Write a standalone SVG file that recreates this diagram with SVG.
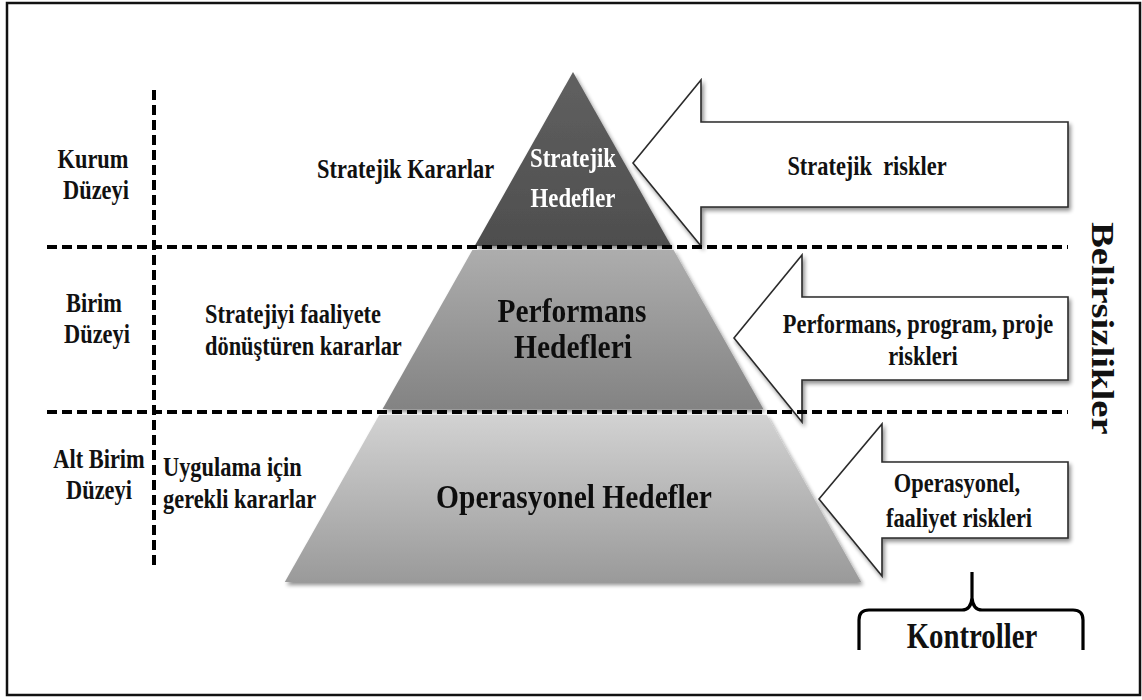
<svg xmlns="http://www.w3.org/2000/svg" width="1142" height="700" viewBox="0 0 1142 700">
  <defs>
    <style>
      text { font-family: "Liberation Serif", "Times New Roman", serif; font-weight: bold; fill: #111; }
      .sm { font-size: 22.4px; }
      .big { font-size: 29.5px; }
      .mid { text-anchor: middle; }
      .white { fill: #fff; }
      .arrow { fill: #fff; stroke: #2a2a2a; stroke-width: 1.6; stroke-linejoin: miter; }
      .dash { stroke: #000; stroke-width: 4; stroke-dasharray: 10 5; fill: none; }
      .brace { stroke: #000; stroke-width: 3.2; fill: none; stroke-linejoin: round; }
    </style>
    <linearGradient id="gTop" x1="0" y1="0" x2="0" y2="1">
      <stop offset="0" stop-color="#606060"/>
      <stop offset="1" stop-color="#4e4e4e"/>
    </linearGradient>
    <linearGradient id="gMid" x1="0" y1="0" x2="0" y2="1">
      <stop offset="0" stop-color="#adadad"/>
      <stop offset="1" stop-color="#838383"/>
    </linearGradient>
    <linearGradient id="gLow" x1="0" y1="0" x2="0" y2="1">
      <stop offset="0" stop-color="#d2d2d2"/>
      <stop offset="1" stop-color="#9a9a9a"/>
    </linearGradient>
    <filter id="shadow" x="-10%" y="-10%" width="125%" height="130%">
      <feGaussianBlur in="SourceAlpha" stdDeviation="2.2"/>
      <feOffset dx="1.5" dy="3" result="o"/>
      <feComponentTransfer><feFuncA type="linear" slope="0.45"/></feComponentTransfer>
      <feMerge><feMergeNode/><feMergeNode in="SourceGraphic"/></feMerge>
    </filter>
  </defs>

  <!-- frame -->
  <rect x="7" y="3" width="1133" height="692" fill="#fff" stroke="#111" stroke-width="2.5"/>

  <!-- pyramid tiers -->
  <g id="tier-strategic" filter="url(#shadow)">
    <polygon points="573,72 671.3,246 474.7,246" fill="url(#gTop)"/>
    <text class="sm mid white" style="font-size:22.8px" transform="translate(573,167) scale(1,1.2)">Stratejik</text>
    <text class="sm mid white" style="font-size:22.8px" transform="translate(573,207) scale(1,1.2)">Hedefler</text>
  </g>
  <g id="tier-performance" filter="url(#shadow)">
    <polygon points="472.4,250 673.6,250 763.4,409 382.6,409" fill="url(#gMid)"/>
    <text class="big mid" transform="translate(572,322) scale(1,1.15)">Performans</text>
    <text class="big mid" transform="translate(573,358) scale(1,1.15)">Hedefleri</text>
  </g>
  <g id="tier-operational" filter="url(#shadow)">
    <polygon points="379.2,415 766.8,415 861.2,582 284.8,582" fill="url(#gLow)"/>
    <text class="big mid" transform="translate(574,508) scale(1,1.15)">Operasyonel Hedefler</text>
  </g>

  <!-- risk arrows -->
  <g id="risk-strategic">
    <polygon class="arrow" filter="url(#shadow)" points="633,163 701,80 701,122 1068,122 1068,207 701,207 701,246"/>
    <text class="sm mid" style="white-space:pre" transform="translate(867,175) scale(1,1.2)">Stratejik  riskler</text>
  </g>
  <g id="risk-performance">
    <polygon class="arrow" filter="url(#shadow)" points="734,338 802,255 802,297 1068,297 1068,380 802,380 802,422"/>
    <text class="sm mid" transform="translate(918,333) scale(1,1.2)">Performans, program, proje</text>
    <text class="sm mid" transform="translate(923,365) scale(1,1.2)">riskleri</text>
  </g>
  <g id="risk-operational">
    <polygon class="arrow" filter="url(#shadow)" points="819,499 882,424 882,462 1068,462 1068,538 882,538 882,576"/>
    <text class="sm mid" transform="translate(957,492) scale(1,1.2)">Operasyonel,</text>
    <text class="sm mid" transform="translate(959,527) scale(1,1.2)">faaliyet riskleri</text>
  </g>

  <!-- level labels -->
  <g id="level-kurum">
    <text class="sm mid" transform="translate(93,168) scale(1,1.2)">Kurum</text>
    <text class="sm mid" transform="translate(96,199) scale(1,1.2)">Düzeyi</text>
  </g>
  <g id="level-birim">
    <text class="sm mid" transform="translate(94,312) scale(1,1.2)">Birim</text>
    <text class="sm mid" transform="translate(97,343) scale(1,1.2)">Düzeyi</text>
  </g>
  <g id="level-altbirim">
    <text class="sm mid" transform="translate(99,468) scale(1,1.2)">Alt Birim</text>
    <text class="sm mid" transform="translate(99,499) scale(1,1.2)">Düzeyi</text>
  </g>

  <!-- decision labels -->
  <g id="decision-strategic">
    <text class="sm" transform="translate(317,178) scale(1,1.2)">Stratejik Kararlar</text>
  </g>
  <g id="decision-unit">
    <text class="sm" transform="translate(205,323) scale(1,1.2)">Stratejiyi faaliyete</text>
    <text class="sm" transform="translate(205,355) scale(1,1.2)">dönüştüren kararlar</text>
  </g>
  <g id="decision-subunit">
    <text class="sm" transform="translate(163,476) scale(1,1.2)">Uygulama için</text>
    <text class="sm" transform="translate(163,508) scale(1,1.2)">gerekli kararlar</text>
  </g>

  <!-- uncertainty label -->
  <g id="uncertainty">
    <text style="font-size:31.7px" transform="translate(1092,222) rotate(90) scale(1.22,1)">Belirsizlikler</text>
  </g>

  <!-- controls brace -->
  <g id="controls">
    <path class="brace" d="M859,650 L859,620 Q859,610 869,610 L962,610 Q971,610 972,598 L972,572 M972,572 L972,598 Q973,610 982,610 L1073,610 Q1083,610 1083,620 L1083,650"/>
    <text class="mid" style="font-size:28.8px" transform="translate(972,648) scale(1,1.28)">Kontroller</text>
  </g>

  <!-- level separators -->
  <g id="connectors">
    <line class="dash" x1="47" y1="247" x2="1068" y2="247"/>
    <line class="dash" x1="47" y1="412" x2="1068" y2="412"/>
    <line class="dash" x1="154" y1="90" x2="154" y2="570"/>
  </g>
</svg>
